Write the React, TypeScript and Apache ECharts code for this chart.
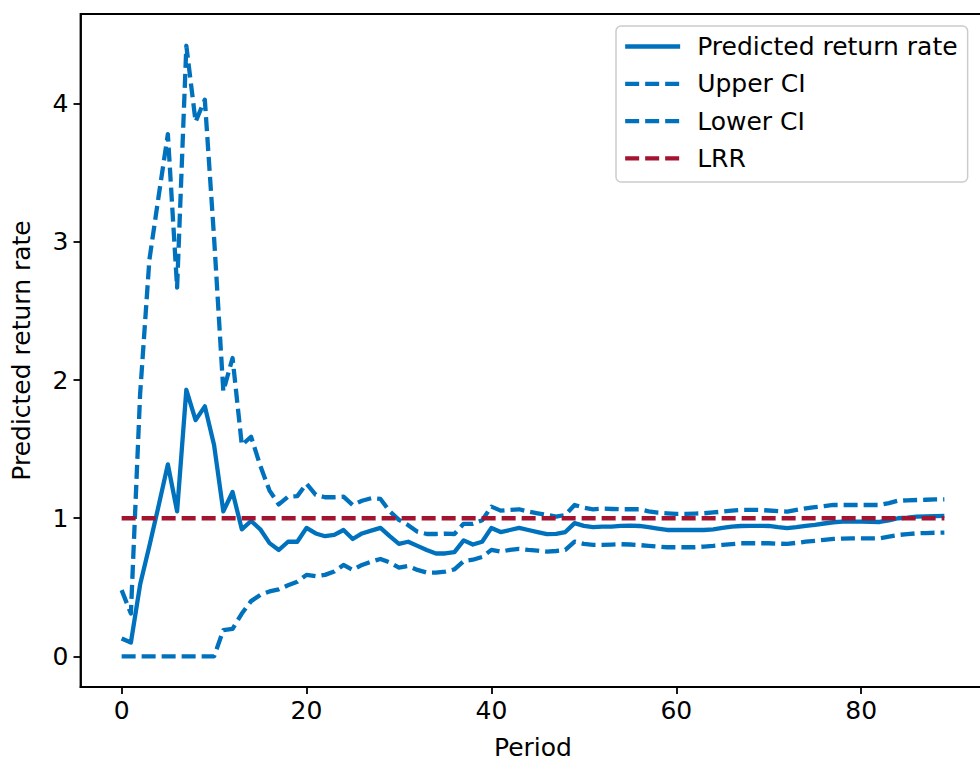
import React, { useEffect, useRef } from "react";
import * as echarts from "echarts";

const predicted = [
  0.13, 0.10, 0.52, 0.80, 1.09, 1.39, 1.05, 1.93, 1.71, 1.81,
  1.53, 1.05, 1.19, 0.92, 0.98, 0.92, 0.82, 0.77, 0.83, 0.83,
  0.93, 0.89, 0.87, 0.88, 0.915, 0.85, 0.89, 0.91, 0.93, 0.87,
  0.815, 0.83, 0.80, 0.77, 0.745, 0.745, 0.755, 0.84, 0.81, 0.83,
  0.93, 0.90, 0.915, 0.93, 0.915, 0.90, 0.885, 0.887, 0.90, 0.965,
  0.945, 0.935, 0.94, 0.94, 0.945, 0.946, 0.944, 0.935, 0.925, 0.915,
  0.915, 0.915, 0.915, 0.915, 0.92, 0.93, 0.94, 0.944, 0.945, 0.945,
  0.944, 0.935, 0.928, 0.935, 0.945, 0.952, 0.962, 0.971, 0.975, 0.976,
  0.975, 0.974, 0.973, 0.985, 1.0, 1.005, 1.012, 1.014, 1.016, 1.017,
];

const upperCI = [
  0.48, 0.31, 1.9, 2.87, 3.33, 3.78, 2.67, 4.42, 3.87, 4.03,
  3.03, 1.92, 2.16, 1.53, 1.59, 1.38, 1.2, 1.1, 1.156, 1.16,
  1.25, 1.17, 1.152, 1.152, 1.156, 1.096, 1.127, 1.145, 1.14, 1.05,
  0.988, 0.95, 0.903, 0.886, 0.886, 0.888, 0.886, 0.96, 0.96, 0.985,
  1.084, 1.055, 1.06, 1.065, 1.048, 1.036, 1.024, 1.012, 1.024, 1.096,
  1.077, 1.065, 1.07, 1.067, 1.065, 1.065, 1.065, 1.05, 1.04, 1.035,
  1.031, 1.032, 1.034, 1.036, 1.042, 1.048, 1.055, 1.06, 1.06, 1.06,
  1.056, 1.052, 1.048, 1.06, 1.072, 1.08, 1.088, 1.096, 1.096, 1.096,
  1.096, 1.096, 1.096, 1.11, 1.127, 1.13, 1.132, 1.134, 1.136, 1.137,
];

const lowerCI = [
  0, 0, 0, 0, 0, 0, 0, 0, 0, 0,
  0, 0.19, 0.20, 0.31, 0.40, 0.445, 0.47, 0.485, 0.515, 0.54,
  0.59, 0.58, 0.59, 0.614, 0.662, 0.626, 0.662, 0.686, 0.705, 0.68,
  0.643, 0.654, 0.626, 0.607, 0.607, 0.614, 0.63, 0.69, 0.70, 0.72,
  0.771, 0.758, 0.771, 0.778, 0.771, 0.766, 0.758, 0.763, 0.771, 0.831,
  0.814, 0.807, 0.807, 0.809, 0.812, 0.81, 0.806, 0.80, 0.795, 0.79,
  0.79, 0.79, 0.79, 0.795, 0.80, 0.807, 0.813, 0.819, 0.819, 0.819,
  0.819, 0.816, 0.814, 0.822, 0.83, 0.837, 0.844, 0.85, 0.853, 0.855,
  0.855, 0.855, 0.855, 0.867, 0.879, 0.885, 0.891, 0.893, 0.895, 0.896,
];

const lrrValue = 1;
const lrrPeriods = [0, 89];

const xTicks = [0, 20, 40, 60, 80];
const yTicks = [0, 1, 2, 3, 4];

const FONT = "DejaVu Sans";
const BLUE = "#0072BD";
const RED = "#A2142F";
const FS = 25;
const LW = 4.3;

export default function App() {
  const ref = useRef<HTMLDivElement>(null);

  useEffect(() => {
    if (!ref.current) return;
    const chart = echarts.init(ref.current, null, { renderer: "svg" });
    const toPairs = (arr: number[]) => arr.map((v, i) => [i, v]);
    const dash = [14, 6];
    const textBase = { fontFamily: FONT, fontSize: FS, color: "#000" };

    chart.setOption({
      animation: false,
      backgroundColor: "#fff",
      grid: {
        left: 80.5,
        top: 14,
        width: 905,
        height: 673,
        containLabel: false,
        outerBoundsMode: "none",
        show: true,
        borderColor: "#000",
        borderWidth: 1.8,
        backgroundColor: "transparent",
      },
      legend: {
        orient: "vertical",
        left: 616,
        top: 26,
        padding: [8, 10, 11, 7],
        itemWidth: 55,
        itemHeight: 14,
        itemGap: 12.3,
        backgroundColor: "rgba(255,255,255,0.8)",
        borderColor: "#cccccc",
        borderWidth: 1.5,
        borderRadius: 5,
        itemStyle: { opacity: 0 },
        lineStyle: { width: LW, cap: "butt" },
        textStyle: { ...textBase, padding: [0, 0, 0, 12], lineHeight: 24 },
        data: ["Predicted return rate", "Upper CI", "Lower CI", "LRR"],
      },
      xAxis: {
        type: "value",
        min: -4.45,
        max: 93.45,
        name: "Period",
        nameLocation: "middle",
        nameGap: 48,
        nameTextStyle: textBase,
        axisLine: { show: true, onZero: false, lineStyle: { color: "#000", width: 1.8 } },
        axisTick: {
          show: true,
          length: 7,
          customValues: xTicks,
          lineStyle: { color: "#000", width: 1.8 },
        },
        axisLabel: { ...textBase, margin: 11, customValues: xTicks },
        splitLine: { show: false },
      },
      yAxis: {
        type: "value",
        min: -0.2215,
        max: 4.65,
        name: "Predicted return rate",
        nameLocation: "middle",
        nameGap: 47,
        nameTextStyle: textBase,
        axisLine: { show: true, onZero: false, lineStyle: { color: "#000", width: 1.8 } },
        axisTick: {
          show: true,
          length: 7,
          customValues: yTicks,
          lineStyle: { color: "#000", width: 1.8 },
        },
        axisLabel: { ...textBase, margin: 12, customValues: yTicks },
        splitLine: { show: false },
      },
      series: [
        {
          name: "Predicted return rate",
          type: "line",
          symbol: "none",
          data: toPairs(predicted),
          lineStyle: { color: BLUE, width: LW, join: "round" },
          itemStyle: { color: BLUE },
        },
        {
          name: "Upper CI",
          type: "line",
          symbol: "none",
          data: toPairs(upperCI),
          lineStyle: { color: BLUE, width: LW, type: dash, cap: "butt", join: "round" },
          itemStyle: { color: BLUE },
        },
        {
          name: "Lower CI",
          type: "line",
          symbol: "none",
          data: toPairs(lowerCI),
          lineStyle: { color: BLUE, width: LW, type: dash, cap: "butt", join: "round" },
          itemStyle: { color: BLUE },
        },
        {
          name: "LRR",
          type: "line",
          symbol: "none",
          data: lrrPeriods.map((p) => [p, lrrValue]),
          lineStyle: { color: RED, width: LW, type: dash, cap: "butt" },
          itemStyle: { color: RED },
        },
      ],
    });

    return () => chart.dispose();
  }, []);

  return (
    <div
      style={{
        position: "fixed",
        left: 0,
        top: 0,
        width: 980,
        height: 764,
        overflow: "hidden",
        background: "#fff",
      }}
    >
      <div ref={ref} style={{ width: 990, height: 764 }} />
    </div>
  );
}
